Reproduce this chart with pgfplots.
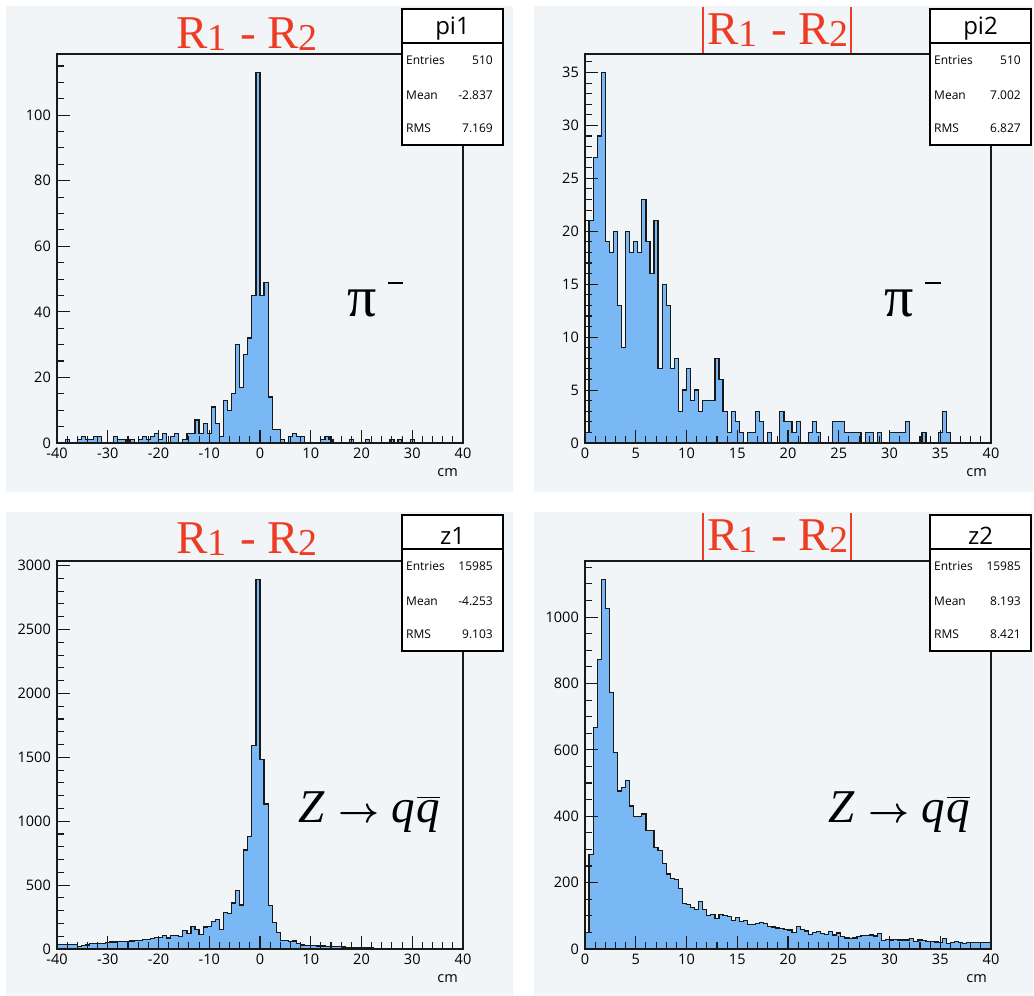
\documentclass[border=0pt]{standalone}
\usepackage{fontspec}
\usepackage{pgfplots}
\pgfplotsset{compat=1.18}
\setmainfont{Open Sans}
\newfontfamily\serifT{Liberation Serif}
\definecolor{panelbg}{RGB}{242,245,248}
\definecolor{histblue}{RGB}{122,184,245}
\definecolor{titlered}{RGB}{238,60,36}
\newcommand{\ticks}{\fontsize{14.5}{15}\selectfont}
\newcommand{\statf}{\fontsize{12}{13}\selectfont}
\newcommand{\rsub}[1]{\raisebox{-2pt}{\fontsize{38}{38}\selectfont #1}}
\newcommand{\rtitle}{\serifT\fontsize{47}{47}\selectfont R\rsub{1}\hspace{14pt}-\hspace{11pt}R\rsub{2}}
\newcommand{\zqq}{\serifT\fontsize{47}{47}\selectfont\itshape Z\hspace{14pt}\raisebox{0.5pt}{\resizebox{41pt}{!}{$\boldsymbol{\rightarrow}$}}\hspace{12pt}q\hspace{2pt}$\overline{\hbox{\serifT\itshape q}}$}
\usepackage{amsmath}
\pgfplotsset{rootaxis/.style={
  scale only axis, axis on top, clip=true,
  axis line style={line width=1.3pt, draw=black!90},
  tick style={line width=1.1pt, draw=black!90},
  tick align=inside, tick pos=left,
  major tick length=12.5pt, minor tick length=6.5pt,
  ymin=0,
  xticklabel style={font=\ticks, inner sep=0pt, yshift=-5pt},
  yticklabel style={font=\ticks, inner sep=0pt, xshift=-6pt},
  },
  hist/.style={const plot, fill=histblue, draw=black!90, line width=1.2pt, line join=miter, mark=none}
}
\begin{document}
\begin{tikzpicture}[x=1pt,y=1pt]
\useasboundingbox (0,0) rectangle (1034,996);
\fill[white] (0,0) rectangle (1034,996);
\fill[panelbg] (6,504) rectangle (513,990);
\fill[panelbg] (534,504) rectangle (1033,990);
\fill[panelbg] (6,0) rectangle (513,484);
\fill[panelbg] (534,0) rectangle (1033,484);

% ---------- Panel 1: pi1
\begin{axis}[rootaxis, at={(57pt,553pt)}, width=406pt, height=389pt,
  xmin=-40, xmax=40, ymax=118.65,
  xtick={-40,-30,-20,-10,0,10,20,30,40},
  xticklabels={-40,-30,-20,-10,0,10,20,30,40},
  minor xtick={-38,-36,...,38},
  ytick={0,20,40,60,80,100}, yticklabels={0,20,40,60,80,100},
  minor ytick={5,10,...,115}]
\addplot[hist] coordinates {
(-40,0)(-39.2,0)(-38.4,1)(-37.6,0)(-36.8,0)(-36,1)(-35.2,2)(-34.4,1)(-33.6,1)(-32.8,2)
(-32,2)(-31.2,0)(-30.4,0)(-29.6,0)(-28.8,2)(-28,1)(-27.2,1)(-26.4,0)(-25.6,1)(-24.8,0)
(-24,1)(-23.2,2)(-22.4,1)(-21.6,2)(-20.8,3)(-20,1)(-19.2,3)(-18.4,0)(-17.6,2)(-16.8,3)
(-16,0)(-15.2,1)(-14.4,3)(-13.6,3)(-12.8,7)(-12,3)(-11.2,6)(-10.4,3)(-9.6,11)(-8.8,6)
(-8,2)(-7.2,13)(-6.4,10)(-5.6,15)(-4.8,30)(-4,17)(-3.2,27)(-2.4,32)(-1.6,45)(-0.8,113)
(0,45)(0.8,49)(1.6,14)(2.4,4)(3.2,4)(4,1)(4.8,0)(5.6,2)(6.4,3)(7.2,2)
(8,2)(8.8,0)(9.6,0)(10.4,0)(11.2,0)(12,1)(12.8,2)(13.6,1)(14.4,0)(15.2,0)
(16,0)(16.8,0)(17.6,1)(18.4,0)(19.2,0)(20,0)(20.8,1)(21.6,0)(22.4,0)(23.2,0)
(24,0)(24.8,0)(25.6,1)(26.4,0)(27.2,1)(28,0)(28.8,0)(29.6,1)(30.4,0)(31.2,0)
(32,0)(32.8,0)(33.6,0)(34.4,0)(35.2,0)(36,0)(36.8,0)(37.6,0)(38.4,0)(39.2,0)(40,0)
} \closedcycle;
\end{axis}

% ---------- Panel 2: pi2
\begin{axis}[rootaxis, at={(585pt,553pt)}, width=406pt, height=389pt,
  xmin=0, xmax=40, ymax=36.75,
  xtick={0,5,...,40}, xticklabels={0,5,10,15,20,25,30,35,40},
  minor xtick={1,...,39},
  ytick={0,5,...,35}, yticklabels={0,5,10,15,20,25,30,35},
  minor ytick={1,...,36}]
\addplot[hist] coordinates {
(0,1)(0.4,21)(0.8,27)(1.2,29)(1.6,35)(2,19)(2.4,18)(2.8,20)(3.2,13)(3.6,9)
(4,20)(4.4,18)(4.8,19)(5.2,18)(5.6,23)(6,19)(6.4,16)(6.8,21)(7.2,7)(7.6,15)
(8,13)(8.4,7)(8.8,8)(9.2,3)(9.6,5)(10,7)(10.4,4)(10.8,5)(11.2,3)(11.6,4)
(12,4)(12.4,4)(12.8,8)(13.2,6)(13.6,3)(14,1)(14.4,3)(14.8,2)(15.2,1)(15.6,0)
(16,1)(16.4,1)(16.8,3)(17.2,2)(17.6,0)(18,1)(18.4,0)(18.8,0)(19.2,3)(19.6,2)
(20,2)(20.4,1)(20.8,2)(21.2,0)(21.6,0)(22,1)(22.4,2)(22.8,1)(23.2,0)(23.6,0)
(24,0)(24.4,2)(24.8,2)(25.2,2)(25.6,1)(26,1)(26.4,1)(26.8,1)(27.2,0)(27.6,1)
(28,1)(28.4,0)(28.8,1)(29.2,0)(29.6,0)(30,1)(30.4,1)(30.8,1)(31.2,1)(31.6,2)
(32,0)(32.4,0)(32.8,0)(33.2,1)(33.6,0)(34,0)(34.4,0)(34.8,1)(35.2,3)(35.6,1)
(36,0)(36.4,0)(36.8,0)(37.2,0)(37.6,0)(38,0)(38.4,0)(38.8,0)(39.2,0)(39.6,0)(40,0)
} \closedcycle;
\end{axis}

% ---------- Panel 3: z1
\begin{axis}[rootaxis, at={(57pt,47pt)}, width=406pt, height=388pt,
  xmin=-40, xmax=40, ymax=3036,
  xtick={-40,-30,-20,-10,0,10,20,30,40},
  xticklabels={-40,-30,-20,-10,0,10,20,30,40},
  minor xtick={-38,-36,...,38},
  ytick={0,500,...,3000}, yticklabels={0,500,1000,1500,2000,2500,3000},
  minor ytick={100,200,...,3000}]
\addplot[hist] coordinates {
(-40,33)(-39.2,36)(-38.4,38)(-37.6,37)(-36.8,36)(-36,18)(-35.2,26)(-34.4,32)(-33.6,45)(-32.8,44)
(-32,42)(-31.2,44)(-30.4,48)(-29.6,55)(-28.8,54)(-28,56)(-27.2,58)(-26.4,60)(-25.6,62)(-24.8,64)
(-24,66)(-23.2,76)(-22.4,74)(-21.6,84)(-20.8,90)(-20,92)(-19.2,104)(-18.4,86)(-17.6,108)(-16.8,106)
(-16,95)(-15.2,145)(-14.4,120)(-13.6,178)(-12.8,152)(-12,115)(-11.2,172)(-10.4,178)(-9.6,216)(-8.8,228)
(-8,152)(-7.2,285)(-6.4,280)(-5.6,360)(-4.8,460)(-4,345)(-3.2,775)(-2.4,882)(-1.6,1590)(-0.8,2893)
(0,1480)(0.8,1135)(1.6,340)(2.4,208)(3.2,127)(4,68)(4.8,66)(5.6,58)(6.4,62)(7.2,44)
(8,32)(8.8,30)(9.6,28)(10.4,26)(11.2,24)(12,23)(12.8,21)(13.6,20)(14.4,18)(15.2,17)
(16,15)(16.8,14)(17.6,12)(18.4,11)(19.2,10)(20,9)(20.8,8)(21.6,8)(22.4,7)(23.2,7)
(24,6)(24.8,6)(25.6,5)(26.4,5)(27.2,5)(28,4)(28.8,4)(29.6,4)(30.4,4)(31.2,3)
(32,3)(32.8,3)(33.6,3)(34.4,3)(35.2,2)(36,2)(36.8,2)(37.6,2)(38.4,2)(39.2,2)(40,2)
} \closedcycle;
\end{axis}

% ---------- Panel 4: z2
\begin{axis}[rootaxis, at={(585pt,47pt)}, width=406pt, height=388pt,
  xmin=0, xmax=40, ymax=1169,
  xtick={0,5,...,40}, xticklabels={0,5,10,15,20,25,30,35,40},
  minor xtick={1,...,39},
  ytick={0,200,...,1000}, yticklabels={0,200,400,600,800,1000},
  minor ytick={50,100,...,1150}]
\addplot[hist] coordinates {
(0,50)(0.4,285)(0.8,668)(1.2,873)(1.6,1114)(2,1026)(2.4,773)(2.8,591)(3.2,476)(3.6,487)
(4,507)(4.4,431)(4.8,400)(5.2,400)(5.6,407)(6,357)(6.4,357)(6.8,306)(7.2,296)(7.6,258)
(8,226)(8.4,212)(8.8,210)(9.2,183)(9.6,138)(10,133)(10.4,126)(10.8,118)(11.2,142)(11.6,118)
(12,100)(12.4,104)(12.8,92)(13.2,103)(13.6,101)(14,97)(14.4,86)(14.8,96)(15.2,83)(15.6,86)
(16,75)(16.4,74)(16.8,78)(17.2,79)(17.6,76)(18,67)(18.4,66)(18.8,63)(19.2,61)(19.6,59)
(20,57)(20.4,50)(20.8,68)(21.2,59)(21.6,54)(22,43)(22.4,49)(22.8,52)(23.2,47)(23.6,44)
(24,52)(24.4,42)(24.8,48)(25.2,38)(25.6,33)(26,32)(26.4,33)(26.8,37)(27.2,40)(27.6,40)
(28,42)(28.4,39)(28.8,47)(29.2,26)(29.6,29)(30,27)(30.4,28)(30.8,27)(31.2,27)(31.6,27)
(32,32)(32.4,23)(32.8,27)(33.2,25)(33.6,22)(34,22)(34.4,21)(34.8,20)(35.2,32)(35.6,17)
(36,20)(36.4,22)(36.8,19)(37.2,17)(37.6,19)(38,19)(38.4,19)(38.8,19)(39.2,19)(39.6,19)(40,19)
} \closedcycle;
\end{axis}

% ---------- x labels
\node[anchor=base east, font=\ticks, inner sep=0pt] at (458,519) {cm};
\node[anchor=base east, font=\ticks, inner sep=0pt] at (987,519) {cm};
\node[anchor=base east, font=\ticks, inner sep=0pt] at (458,13) {cm};
\node[anchor=base east, font=\ticks, inner sep=0pt] at (987,13) {cm};

% ---------- titles
\node[anchor=base west, inner sep=0pt, text=titlered] at (176,947) {\rtitle};
\node[anchor=base west, inner sep=0pt, text=titlered] at (707,951.5) {\rtitle};
\node[anchor=base west, inner sep=0pt, text=titlered] at (176,442) {\rtitle};
\node[anchor=base west, inner sep=0pt, text=titlered] at (707,445) {\rtitle};
\draw[titlered, line width=1.8pt] (702.7,943) -- (702.7,989);
\draw[titlered, line width=1.8pt] (851,943) -- (851,989);
\draw[titlered, line width=1.8pt] (702.7,436) -- (702.7,483);
\draw[titlered, line width=1.8pt] (851,436) -- (851,483);

% ---------- particle labels
\node[anchor=base west, inner sep=0pt] at (347,679) {\serifT\fontsize{58}{58}\selectfont π};
\draw[line width=2pt] (388,713) -- (403,713);
\node[anchor=base west, inner sep=0pt] at (884,679) {\serifT\fontsize{58}{58}\selectfont π};
\draw[line width=2pt] (925,713) -- (941,713);
\node[anchor=base west, inner sep=0pt] at (298,173) {\zqq};
\node[anchor=base west, inner sep=0pt] at (828,173) {\zqq};

% ---------- stats boxes
\foreach \bx/\by/\tt/\tb/\en/\mn/\rm in {402/851/pi1/961/510/-2.837/7.169, 930/851/pi2/961/510/7.002/6.827, 402/345/z1/451/15985/-4.253/9.103, 930/345/z2/451/15985/8.193/8.421}{
  \draw[fill=white, line width=1.3pt] (\bx,\by) rectangle ++(101,136);
  \draw[line width=1.3pt] (\bx,\by+102) -- ++(101,0);
  \node[anchor=base, inner sep=0pt] at (\bx+50.5,\tb) {\fontsize{24}{24}\selectfont \tt};
  \node[anchor=base west, inner sep=0pt] at (\bx+4,\by+80.5) {\statf Entries};
  \node[anchor=base east, inner sep=0pt] at (\bx+91,\by+80.5) {\statf \en};
  \node[anchor=base west, inner sep=0pt] at (\bx+4,\by+45.5) {\statf Mean};
  \node[anchor=base east, inner sep=0pt] at (\bx+91,\by+45.5) {\statf \mn};
  \node[anchor=base west, inner sep=0pt] at (\bx+4,\by+12.5) {\statf RMS};
  \node[anchor=base east, inner sep=0pt] at (\bx+91,\by+12.5) {\statf \rm};
}
\end{tikzpicture}
\end{document}
